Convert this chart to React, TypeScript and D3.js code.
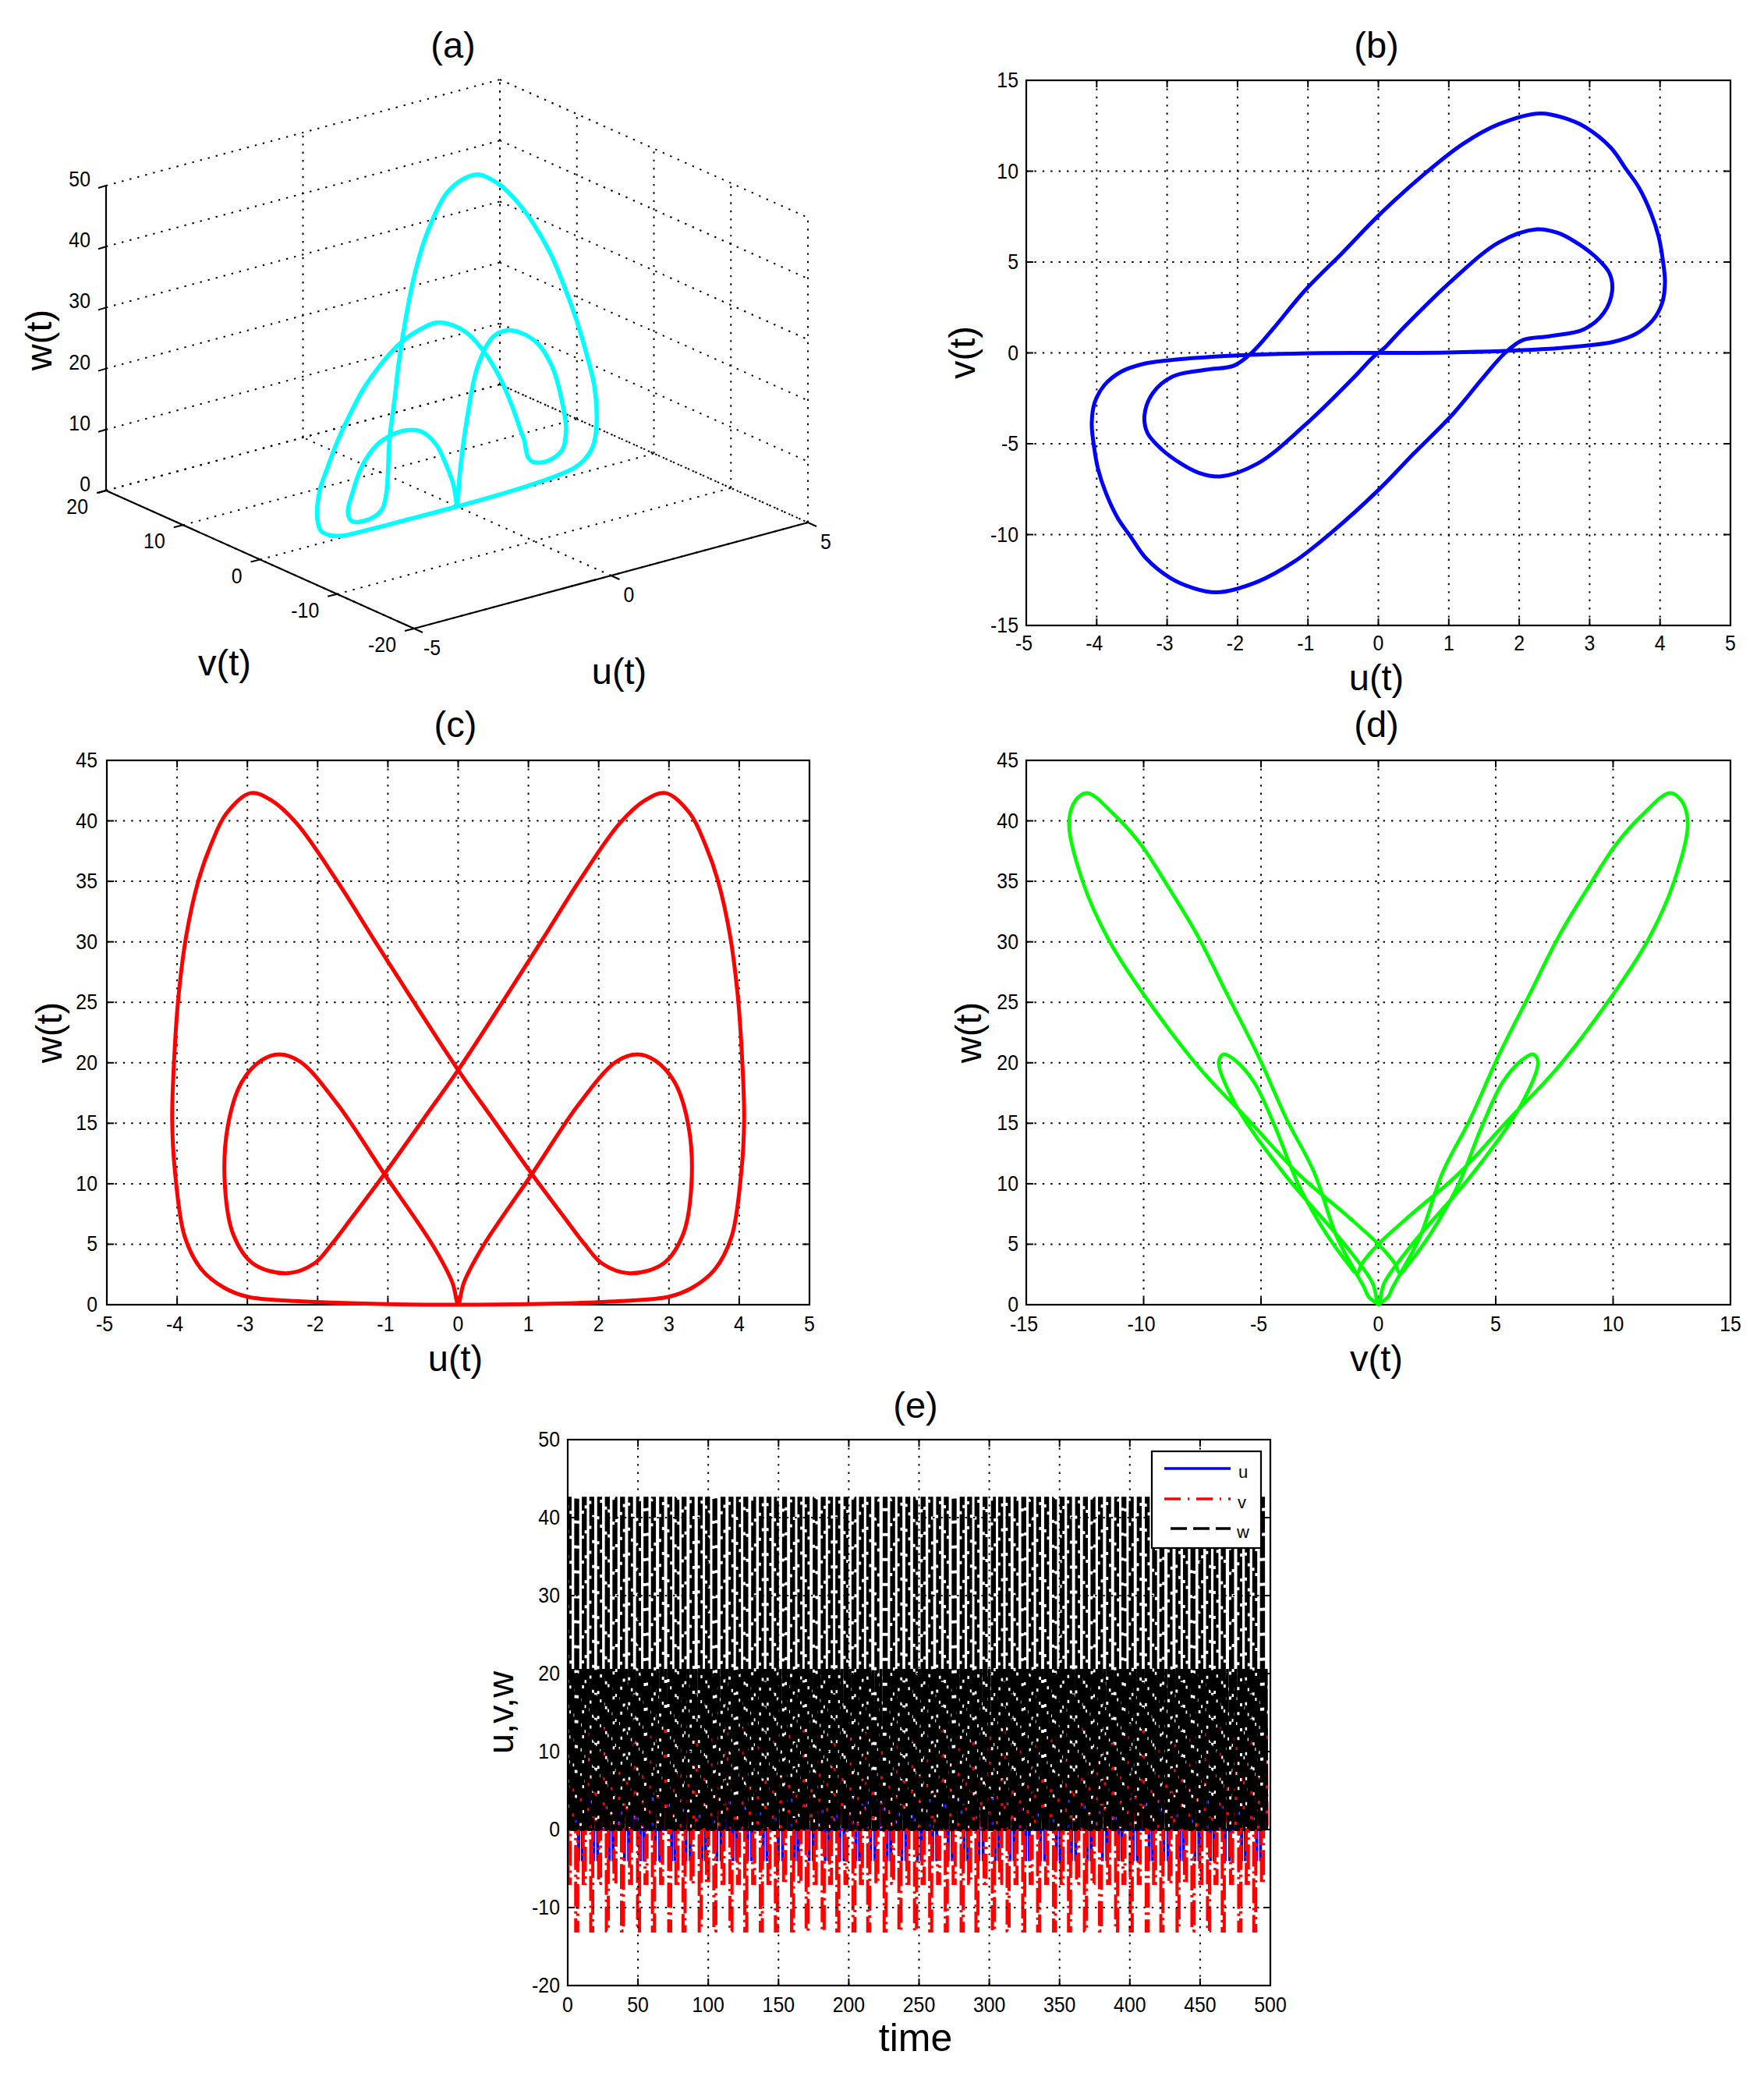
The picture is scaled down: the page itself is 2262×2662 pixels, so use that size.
import React from "react";
import * as d3 from "d3";

// One period of the closed orbit (b), (c) and (d)
const orbitU = [0,1,2.32,3,3.33,3.65,3.89,4.03,4.07,4.04,3.98,3.87,3.7,3.52,3.3,2.95,2.66,2.3,1.72,1.2,0.64,0,-0.5,-1.05,-1.5,-1.8,-2.05,-2.44,-2.92,-3.2,-3.32,-3.28,-3.08,-2.8,-2.55,-2.25,-1.72,-1.05,-0.36,-0.08,0,
  0.08,0.36,1.05,1.72,2.25,2.55,2.8,3.08,3.28,3.32,3.2,2.92,2.44,2.05,1.8,1.5,1.05,0.5,0,-0.64,-1.2,-1.72,-2.3,-2.66,-2.95,-3.3,-3.52,-3.7,-3.87,-3.98,-4.04,-4.07,-4.03,-3.89,-3.65,-3.33,-3,-2.32,-1];
const orbitV = [0,0.02,0.2,0.42,0.6,1.03,1.77,2.75,3.9,5.1,6.4,7.7,9.1,10.1,11.3,12.4,12.9,13.18,12.6,11.5,9.8,7.55,5.55,3.4,1.3,0,-0.7,-0.92,-1.3,-2.2,-3.4,-4.4,-5.3,-6.1,-6.6,-6.8,-6.1,-4,-1.4,-0.25,0,
  0.25,1.4,4,6.1,6.8,6.6,6.1,5.3,4.4,3.4,2.2,1.3,0.92,0.7,0,-1.3,-3.4,-5.55,-7.55,-9.8,-11.5,-12.6,-13.18,-12.9,-12.4,-11.3,-10.1,-9.1,-7.7,-6.4,-5.1,-3.9,-2.75,-1.77,-1.03,-0.6,-0.42,-0.2,-0.02];
const orbitW = [0,0.05,0.3,0.66,1.4,2.9,5.6,11,15.3,20.5,25.5,30.5,35,38,40.6,42.3,41.7,39.8,35,30.2,25.1,19.4,15.3,10.8,7.3,5,3.4,2.6,3.4,5.8,9.9,14.7,18.4,20.2,20.7,20.1,16.6,10.8,4.9,1.8,0.05,
  1.8,4.9,10.8,16.6,20.1,20.7,20.2,18.4,14.7,9.9,5.8,3.4,2.6,3.4,5,7.3,10.8,15.3,19.4,25.1,30.2,35,39.8,41.7,42.3,40.6,38,35,30.5,25.5,20.5,15.3,11,5.6,2.9,1.4,0.66,0.3,0.05];

// Panel (e): times of the excursions
const timesLong = [6.4,17.1,28.2,39,50.4,61,72.6,82.8,94.3,104.7,116.2,126.7,137.8,148.5,160,170.4,181.8,192.2,203.7,214.2,225.9,236.4,247.5,258.3,269.4,280.7,291.2,302.9,313.4,324.5,335.1,346.4,357.1,368.4,379.1,390.6,401,412.4,422.8,434.3,444.9,456,466.5,478.2,488.9];
const timesShort = [1,11.8,22.7,33.6,44.7,55.7,66.8,77.7,88.5,99.5,110.5,121.5,132.3,143.2,154.3,165.2,176.1,187,198,209,220,231.2,242,252.9,263.9,275,286,297,308.1,319,329.8,340.8,351.8,362.8,373.8,384.9,395.8,406.7,417.6,428.6,439.6,450.5,461.3,472.4,483.6,494.4];
const wPeakHigh = 42.5;
const wPeakLow = 20.6;
const vPeakLong = 13;
const vPeakShort = 6.9;
const uPeak = 4.05;

const ticksU = [-5,-4,-3,-2,-1,0,1,2,3,4,5];
const ticksV = [-15,-10,-5,0,5,10,15];
const ticksW = [0,5,10,15,20,25,30,35,40,45];
const ticksTime = [0,50,100,150,200,250,300,350,400,450,500];
const ticksE = [-20,-10,0,10,20,30,40,50];
const ticks3U = [-5,0,5];
const ticks3V = [-20,-10,0,10,20];
const ticks3W = [0,10,20,30,40,50];

const FONT = "'Liberation Sans', Arial, sans-serif";
const DOT = "2.4 8";

type Box = { l: number; r: number; t: number; b: number };

function T(p: { x: number; y: number; anchor: string; children: any }) {
  return (
    <text transform={`translate(${p.x} ${p.y}) scale(0.92 1)`} textAnchor={p.anchor} fontSize={27} fontFamily={FONT}>
      {p.children}
    </text>
  );
}

function Axes2D(p: { box: Box; x: number[]; y: number[]; xs: any; ys: any; xBase: number; yEnd: number }) {
  const { box, x, y, xs, ys, xBase, yEnd } = p;
  return (
    <g>
      {x.map((v) => (
        <g key={"x" + v}>
          {v !== x[0] && v !== x[x.length - 1] && (
            <>
              <line x1={xs(v)} x2={xs(v)} y1={box.t} y2={box.b} stroke="#000" strokeWidth={2} strokeDasharray={DOT} />
              <line x1={xs(v)} x2={xs(v)} y1={box.t} y2={box.t + 9} stroke="#000" strokeWidth={2} />
              <line x1={xs(v)} x2={xs(v)} y1={box.b} y2={box.b - 9} stroke="#000" strokeWidth={2} />
            </>
          )}
          <T x={xs(v) - (v < 0 ? 3 : 0)} y={xBase} anchor="middle">{v}</T>
        </g>
      ))}
      {y.map((v) => (
        <g key={"y" + v}>
          {v !== y[0] && v !== y[y.length - 1] && (
            <>
              <line x1={box.l} x2={box.r} y1={ys(v)} y2={ys(v)} stroke="#000" strokeWidth={2} strokeDasharray={DOT} />
              <line x1={box.l} x2={box.l + 9} y1={ys(v)} y2={ys(v)} stroke="#000" strokeWidth={2} />
              <line x1={box.r} x2={box.r - 9} y1={ys(v)} y2={ys(v)} stroke="#000" strokeWidth={2} />
            </>
          )}
          <T x={yEnd} y={ys(v) + 9} anchor="end">{v}</T>
        </g>
      ))}
      <rect x={box.l} y={box.t} width={box.r - box.l} height={box.b - box.t} fill="none" stroke="#000" strokeWidth={2.2} />
    </g>
  );
}

function Label(p: { x: number; y: number; children: any; rot?: boolean; size?: number }) {
  return (
    <text
      x={p.x}
      y={p.y}
      textAnchor="middle"
      fontSize={p.size ?? 47}
      fontFamily={FONT}
      transform={p.rot ? `rotate(-90 ${p.x} ${p.y})` : undefined}
    >
      {p.children}
    </text>
  );
}

function Orbit2D(p: { xv: number[]; yv: number[]; xs: any; ys: any; color: string; width: number }) {
  const idx = d3.range(p.xv.length);
  const gen = d3.line<number>().x((i) => p.xs(p.xv[i])).y((i) => p.ys(p.yv[i])).curve(d3.curveCatmullRomClosed.alpha(0.5));
  return <path d={gen(idx) ?? ""} fill="none" stroke={p.color} strokeWidth={p.width} strokeLinejoin="round" />;
}

function Panel3D() {
  // screen offset contributed by each data axis
  const uX = d3.scaleLinear().domain([-5, 5]).range([0, 505]);
  const uY = d3.scaleLinear().domain([-5, 5]).range([0, -136]);
  const vX = d3.scaleLinear().domain([20, -20]).range([0, 395]);
  const vY = d3.scaleLinear().domain([20, -20]).range([0, 177]);
  const wY = d3.scaleLinear().domain([0, 50]).range([0, -391]);
  const X = (u: number, v: number) => 136 + uX(u) + vX(v);
  const Y = (u: number, v: number, w: number) => 629 + uY(u) + vY(v) + wY(w);
  const seg = (key: string, a: number[], b: number[], solid = false) => (
    <line key={key} x1={X(a[0], a[1])} y1={Y(a[0], a[1], a[2])} x2={X(b[0], b[1])} y2={Y(b[0], b[1], b[2])}
      stroke="#000" strokeWidth={solid ? 2.2 : 2} strokeDasharray={solid ? undefined : DOT} />
  );
  const idx = d3.range(orbitU.length);
  const gen = d3.line<number>().x((i) => X(orbitU[i], orbitV[i])).y((i) => Y(orbitU[i], orbitV[i], orbitW[i])).curve(d3.curveCatmullRomClosed.alpha(0.5));
  return (
    <g>
      {ticks3U.map((u) => seg("fu" + u, [u, -20, 0], [u, 20, 0]))}
      {ticks3U.map((u) => seg("bu" + u, [u, 20, 0], [u, 20, 50]))}
      {ticks3V.map((v) => seg("fv" + v, [-5, v, 0], [5, v, 0]))}
      {ticks3V.map((v) => seg("bv" + v, [5, v, 0], [5, v, 50]))}
      {ticks3W.map((w) => seg("a" + w, [-5, 20, w], [5, 20, w]))}
      {ticks3W.map((w) => seg("b" + w, [5, 20, w], [5, -20, w]))}
      <path d={gen(idx) ?? ""} fill="none" stroke="#00FFFF" strokeWidth={5.5} strokeLinejoin="round" />
      {seg("ax1", [-5, 20, 0], [-5, 20, 50], true)}
      {seg("ax2", [-5, 20, 0], [-5, -20, 0], true)}
      {seg("ax3", [-5, -20, 0], [5, -20, 0], true)}
      {ticks3W.map((w) => (
        <g key={"tw" + w}>
          <line x1={X(-5, 20)} x2={X(-5, 20) - 10} y1={Y(-5, 20, w)} y2={Y(-5, 20, w) + 3} stroke="#000" strokeWidth={2} />
          <T x={116} y={Y(-5, 20, w) + 1} anchor="end">{w}</T>
        </g>
      ))}
      {ticks3V.map((v) => (
        <g key={"tv" + v}>
          <line x1={X(-5, v)} x2={X(-5, v) - 12} y1={Y(-5, v, 0)} y2={Y(-5, v, 0) + 3} stroke="#000" strokeWidth={2} />
          <T x={X(-5, v) - 23} y={Y(-5, v, 0) + 30} anchor="end">{v}</T>
        </g>
      ))}
      {ticks3U.map((u) => (
        <g key={"tu" + u}>
          <line x1={X(u, -20)} x2={X(u, -20) + 11} y1={Y(u, -20, 0)} y2={Y(u, -20, 0) + 5} stroke="#000" strokeWidth={2} />
          <T x={X(u, -20) + (u < 0 ? 12 : 16)} y={Y(u, -20, 0) + 34} anchor="start">{u}</T>
        </g>
      ))}
    </g>
  );
}

function PanelE() {
  const box: Box = { l: 728, r: 1629, t: 1846, b: 2546 };
  const xs = d3.scaleLinear().domain([0, 500]).range([box.l, box.r]);
  const ys = d3.scaleLinear().domain([-20, 50]).range([box.b, box.t]);
  const all = [
    ...timesLong.map((t) => ({ t, long: true })),
    ...timesShort.map((t) => ({ t, long: false })),
  ].sort((a, b) => a.t - b.t);
  const line = d3.line<number[]>().x((d) => xs(d[0])).y((d) => ys(d[1]));

  const wSeries: number[][] = [];
  all.forEach((e, i) => {
    const next = all[i + 1] ? all[i + 1].t : e.t + 5.45;
    wSeries.push([e.t - 0.85, 0], [e.t - 0.75, wPeakHigh], [e.t + 0.75, wPeakHigh], [e.t + 0.85, 0], [(e.t + next) / 2, wPeakLow], [(e.t + next) / 2 + 0.3, 0]);
  });
  const vSeries: number[][] = [];
  all.forEach((e, i) => {
    const next = all[i + 1] ? all[i + 1].t : e.t + 5.45;
    const depth = e.long ? vPeakLong : vPeakShort;
    const rise = e.long ? vPeakShort : vPeakLong;
    vSeries.push([e.t - 0.75, 0], [e.t - 0.7, -depth], [e.t + 0.7, -depth], [e.t + 0.75, 0], [(e.t + next) / 2, rise], [(e.t + next) / 2 + 0.5, 0]);
  });
  const uSeries: number[][] = [];
  all.forEach((e, i) => {
    const sign = i % 2 === 0 ? -1 : 1;
    uSeries.push([e.t - 1.5, 0], [e.t - 1.4, sign * uPeak], [e.t - 1.2, 0], [e.t + 1.2, 0], [e.t + 1.4, -sign * uPeak], [e.t + 1.5, 0]);
  });

  return (
    <g>
      <defs>
        <clipPath id="clipE"><rect x={box.l} y={box.t} width={box.r - box.l} height={box.b - box.t} /></clipPath>
      </defs>
      <g clipPath="url(#clipE)" fill="none">
        <path d={line(uSeries) ?? ""} stroke="#0000FF" strokeWidth={3.5} />
        <path d={line(vSeries) ?? ""} stroke="#FF0000" strokeWidth={4} strokeDasharray="32 6 3 6" />
        <path d={line(wSeries) ?? ""} stroke="#000" strokeWidth={3.6} strokeDasharray="28 4" />
      </g>
      <Axes2D box={box} x={ticksTime} y={ticksE} xs={xs} ys={ys} xBase={2580} yEnd={718} />
      <rect x={1477} y={1861} width={140} height={124} fill="#fff" stroke="#000" strokeWidth={2.2} />
      <line x1={1493} x2={1578} y1={1883} y2={1883} stroke="#0000FF" strokeWidth={3.5} />
      <line x1={1493} x2={1578} y1={1922} y2={1922} stroke="#FF0000" strokeWidth={3.5} strokeDasharray="21 9 2 9" />
      <line x1={1501} x2={1578} y1={1960} y2={1960} stroke="#000" strokeWidth={3.5} strokeDasharray="21 8" />
      <text x={1588} y={1895} fontSize={22} fontFamily={FONT}>u</text>
      <text x={1587} y={1934} fontSize={22} fontFamily={FONT}>v</text>
      <text x={1586} y={1972} fontSize={22} fontFamily={FONT}>w</text>
    </g>
  );
}

export default function App() {
  const bB: Box = { l: 1316, r: 2219, t: 103, b: 802 };
  const cB: Box = { l: 137, r: 1038, t: 975, b: 1673 };
  const dB: Box = { l: 1316, r: 2219, t: 975, b: 1673 };
  const bx = d3.scaleLinear().domain([-5, 5]).range([bB.l, bB.r]);
  const by = d3.scaleLinear().domain([-15, 15]).range([bB.b, bB.t]);
  const cx = d3.scaleLinear().domain([-5, 5]).range([cB.l, cB.r]);
  const cy = d3.scaleLinear().domain([0, 45]).range([cB.b, cB.t]);
  const dx = d3.scaleLinear().domain([-15, 15]).range([dB.l, dB.r]);
  const dy = d3.scaleLinear().domain([0, 45]).range([dB.b, dB.t]);
  return (
    <svg width={2262} height={2662} style={{ position: "absolute", left: 0, top: 0, background: "#fff" }}>
      <Label x={581} y={74}>(a)</Label>
      <Panel3D />
      <Label x={66} y={436} rot>w(t)</Label>
      <Label x={288} y={866}>v(t)</Label>
      <Label x={794} y={877}>u(t)</Label>

      <Label x={1765} y={74}>(b)</Label>
      <Axes2D box={bB} x={ticksU} y={ticksV} xs={bx} ys={by} xBase={834} yEnd={1306} />
      <Orbit2D xv={orbitU} yv={orbitV} xs={bx} ys={by} color="#0000FF" width={5} />
      <Label x={1250} y={452} rot>v(t)</Label>
      <Label x={1765} y={885}>u(t)</Label>

      <Label x={584} y={945}>(c)</Label>
      <Axes2D box={cB} x={ticksU} y={ticksW} xs={cx} ys={cy} xBase={1707} yEnd={125} />
      <Orbit2D xv={orbitU} yv={orbitW} xs={cx} ys={cy} color="#FF0000" width={5} />
      <Label x={79} y={1324} rot>w(t)</Label>
      <Label x={584} y={1758}>u(t)</Label>

      <Label x={1765} y={945}>(d)</Label>
      <Axes2D box={dB} x={ticksV} y={ticksW} xs={dx} ys={dy} xBase={1707} yEnd={1306} />
      <Orbit2D xv={orbitV} yv={orbitW} xs={dx} ys={dy} color="#00FF00" width={4.6} />
      <Label x={1258} y={1324} rot>w(t)</Label>
      <Label x={1765} y={1758}>v(t)</Label>

      <Label x={1174} y={1818}>(e)</Label>
      <PanelE />
      <Label x={658} y={2196} rot>u,v,w</Label>
      <Label x={1174} y={2630} size={50}>time</Label>
    </svg>
  );
}
